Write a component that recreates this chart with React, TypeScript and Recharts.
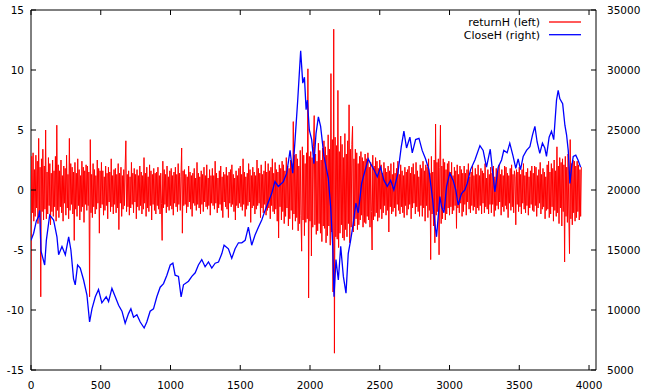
import React from 'react'
import { Line, LineChart, ReferenceArea, XAxis, YAxis } from 'recharts'

// daily return (left axis), one value every 5 sessions
const returnStep = 5
const returnH = [
  -7.5, 2.8, -1.9, 3.1, -2.6, 1.7, -2.2, 2.9, -1.5, 2.4, -2.8, 4.3, -2.1, 1.9, -8.9, 2.6, -1.8, 3.4, -2.5, 2.0,
  -1.6, 5.0, -2.4, 1.5, -2.0, 2.7, -1.3, 2.2, -2.9, 1.4, -1.8, 2.5, -2.2, 1.6, -1.4, 2.8, -2.6, 5.4, -1.7, 2.1,
  -2.3, 1.6, -1.4, 2.5, -1.9, 1.2, -2.6, 2.0, -1.1, 1.8, -2.1, 2.9, -1.5, 1.3, -2.4, 4.3, -1.7, 2.2, -1.2, 1.9,
  -2.0, 1.5, -4.2, 2.3, -1.6, 1.4, -2.2, 2.6, -1.3, 1.7, -2.5, 1.2, -1.8, 2.4, -1.4, 1.9, -2.7, 1.6, -1.2, 2.1,
  -1.7, 2.0, -1.3, 1.5, -8.9, 4.2, -1.9, 1.3, -2.3, 2.2, -1.4, 1.7, -2.0, 1.2, -1.6, 2.5, -1.1, 1.8, -3.6, 1.6,
  -1.5, 2.3, -1.2, 1.6, -2.1, 1.1, -1.7, 2.0, -1.3, 1.4, -2.4, 1.9, -1.0, 1.5, -1.8, 2.6, -1.4, 1.2, -2.0, 1.7,
  -1.2, 1.8, -1.9, 1.3, -1.5, 2.2, -3.3, 1.4, -1.1, 1.9, -2.2, 1.2, -1.6, 1.7, -1.3, 2.0, 4.1, -1.8, 1.3, -1.4,
  1.6, -2.1, 1.1, -1.5, 2.3, -1.2, 1.4, -1.9, 1.8, -1.0, 1.3, -2.4, 1.7, -1.4, 1.2, -1.7, 2.0, -1.3, 1.5, -2.0,
  1.2, -1.6, 2.7, -1.1, 1.4, -2.2, 1.9, -1.5, 1.1, -1.8, 2.1, -1.3, 1.6, -2.5, 1.3, -1.2, 1.8, -1.7, 1.4, -2.0,
  1.5, -1.3, 1.9, -1.6, 1.2, -2.0, 1.4, -1.1, -4.2, 2.4, -1.5, 1.7, -1.2, 1.3, -1.9, 2.0, -1.4, 1.1, -1.7, 1.6,
  -1.3, 1.8, -1.6, 1.2, -2.1, 1.5, -1.1, 1.9, -1.4, 1.3, -1.8, 2.2, -1.2, 1.4, -1.7, 1.1, 3.5, -3.6, 1.6, -1.3,
  1.7, -1.2, 1.3, -1.9, 1.1, -1.4, 2.0, -1.0, 1.5, -1.6, 1.2, -2.2, 1.4, -1.1, 1.8, -1.3, 1.0, -1.7, 2.3, -1.2,
  1.4, -1.5, 1.1, -2.0, 1.6, -1.2, 1.3, -1.8, 1.9, -1.0, 1.2, -1.4, 2.1, -1.6, 1.0, -1.3, 1.7, -2.1, 1.2, -1.1,
  1.8, -1.3, 1.2, -1.6, 2.4, -1.1, 1.4, -1.9, 1.0, -1.5, 1.6, -1.2, 2.0, -1.7, 1.1, -2.3, 1.5, -1.0, 1.3, -1.4,
  1.9, -1.6, 1.2, -2.3, 1.5, -1.1, 1.7, -1.4, 2.1, -1.2, 1.3, -1.8, 1.0, -2.5, 1.6, -1.3, 1.2, -1.5, 1.8, -1.1,
  2.0, -1.4, 1.3, -1.7, 2.6, -1.2, 1.5, -2.2, 1.1, -1.6, 1.4, -1.3, 2.2, -1.0, 1.7, -2.7, 1.2, -1.5, 1.9, -1.3,
  1.5, -2.0, 1.2, -1.6, 2.5, -1.3, 1.8, -1.1, 1.4, -2.3, 2.1, -1.5, 1.3, -1.9, 1.6, -1.2, 2.4, -2.1, 1.5, -1.7,
  2.2, -1.5, 1.6, -2.4, 1.9, -1.3, 2.6, -1.8, 1.4, -2.0, 2.3, -1.6, 1.7, -2.6, 1.5, -4.0, 2.1, -1.4, 1.8, -2.5,
  2.4, -1.8, 2.1, -2.8, 1.6, -2.2, 2.7, -1.5, 2.0, -3.0, 1.8, -2.4, 2.5, -1.7, 2.2, -3.3, 5.7, -2.0, 2.9, -2.6,
  3.0, -2.3, 2.6, -3.4, 2.0, -2.8, 3.3, -2.1, -5.1, 3.6, -2.5, 2.9, -3.8, 2.2, -2.7, 3.1, -2.4, 10.1, -9.0, 2.8,
  -2.6, 3.2, -5.5, 2.7, -3.1, 3.6, 6.2, -2.9, 3.0, -3.7, 2.4, -3.4, 3.9, -2.8, 3.3, -3.6, 2.5, -4.3, 3.5, -3.0,
  4.1, -3.2, 3.6, -4.4, 2.9, -3.8, 4.6, -3.0, 3.4, -4.6, 9.7, -3.5, 4.2, -8.5, 13.4, -13.6, 4.4, -3.9, 3.7, -4.1,
  8.3, -4.8, 3.2, -3.6, 4.5, -2.9, 3.8, -4.0, 2.7, -4.2, 4.7, -3.3, 3.0, -3.9, 4.1, -2.8, 7.1, -4.4, 3.4, -3.1,
  3.8, 5.3, -3.5, 2.6, -3.0, 3.4, -2.4, 3.1, -3.3, 2.2, -2.9, 2.8, -2.5, 3.2, -2.1, 2.7, -3.1, 2.4, -2.7, 3.0,
  -2.8, 2.6, -2.2, 3.1, -2.5, 1.9, -3.1, 2.3, -1.8, -5.0, 2.9, -2.5, 2.0, -2.2, 2.7, -1.9, 2.4, -2.6, 1.8, -2.3,
  2.5, -1.6, 2.1, -2.4, 1.4, -1.9, 2.3, -1.3, 1.8, -2.1, 1.5, -1.7, 2.0, -3.5, 1.6, -1.4, 2.2, -2.0, 1.3, -1.8,
  2.3, -1.5, 1.4, -2.2, 1.8, -1.2, 2.4, -1.7, 1.3, -2.0, 2.1, -1.4, 1.6, -1.9, 1.2, -2.3, 1.9, -1.3, 1.5, -2.1,
  1.7, -1.6, 2.0, -1.2, 1.4, -2.4, 1.9, -1.5, 2.2, -1.1, 1.3, -2.0, 2.3, -1.4, 1.6, -1.8, 1.1, -2.2, 2.1, -1.3,
  1.8, -2.2, 2.4, -1.5, 1.6, -2.6, 2.1, -1.3, 1.9, -2.3, 2.6, -1.7, 1.4, -5.8, 2.8, -2.0, 1.5, -3.0, 2.5, -4.4,
  5.5, -2.1, 2.3, -1.8, 2.6, -5.4, 1.9, 5.4, -2.8, 2.0, -2.4, 2.6, -1.6, 2.3, -2.5, 1.7, -2.0, 2.2, -1.5, 2.4,
  -2.1, 1.5, -1.4, 2.3, -2.0, 1.2, -1.7, 1.9, -1.3, 1.6, -3.2, 2.1, -1.5, 1.3, -1.9, 2.0, -1.1, 1.7, -2.2, 1.4,
  -1.8, 2.0, -1.2, 1.4, -2.1, 1.7, -1.0, 2.2, -1.6, 1.1, -1.9, 1.5, -1.3, 2.0, -1.7, 1.2, -1.4, 1.8, -2.0, 1.3,
  -1.5, 2.1, -1.7, 1.2, -1.3, 1.8, -2.0, 1.6, -1.1, 1.4, -1.9, 2.2, -1.4, 1.0, -1.6, 1.7, -2.0, 1.3, -1.2, 1.9,
  -1.9, 1.4, -1.2, 2.0, -2.2, 1.1, -1.7, 1.8, -1.3, 1.5, -1.6, 2.1, -1.0, 1.3, -2.1, 1.7, -1.4, 1.2, -1.8, 2.0,
  -1.3, 1.9, -1.6, 1.4, -2.3, 1.2, -1.1, 1.8, -1.7, 2.1, -1.4, 1.3, -1.9, 1.6, 1.1, -2.9, 1.7, -1.2, 1.5, -1.8,
  1.9, -1.4, 1.3, -2.0, 1.7, -1.1, 2.2, -1.6, 1.2, -1.9, 1.5, -1.3, 1.8, -2.1, 1.1, -1.5, 1.6, -1.2, 2.0, -1.7,
  1.4, -1.8, 2.0, -1.3, 1.9, -2.2, 1.2, -1.5, 1.7, -1.1, 2.3, -2.0, 1.3, -1.6, 1.8, -1.4, 1.5, -2.4, 1.1, -1.7,
  2.1, -1.6, 2.4, -2.3, 1.5, -2.0, 2.2, -1.4, 1.8, -2.6, 2.5, -1.7, 1.6, -2.2, 3.6, -1.9, 2.0, -2.8, 2.7, -1.5,
  2.3, -3.0, 2.6, -1.8, 2.1, -6.0, 2.8, -2.2, 1.9, -2.7, 3.0, -2.0, -5.3, 4.2, -2.4, 2.2, -2.9, 2.5, -1.9, 2.4,
  -2.6, 2.0, -2.3, 2.4, -1.8, 2.1, -2.5, 1.7, -2.2, 1.9,
]

// close (right axis)
const closeX = [
  0, 19, 38, 55, 62, 72, 98, 110, 134, 162, 186, 198, 222, 246, 270, 286, 305, 317, 334, 353,
  377, 401, 420, 437, 461, 484, 508, 539, 556, 580, 604, 628, 652, 675, 699, 716, 735, 759, 783, 811,
  830, 854, 878, 902, 926, 950, 974, 998, 1017, 1033, 1057, 1076, 1093, 1129, 1153, 1177, 1200, 1224, 1248, 1272,
  1296, 1320, 1344, 1368, 1384, 1415, 1439, 1463, 1487, 1511, 1535, 1558, 1582, 1606, 1630, 1654, 1678, 1702, 1725, 1749,
  1773, 1809, 1833, 1857, 1876, 1893, 1912, 1933, 1948, 1960, 1972, 1981, 1995, 2012, 2028, 2043, 2060, 2076, 2100, 2131,
  2148, 2163, 2172, 2186, 2203, 2220, 2239, 2258, 2274, 2291, 2310, 2329, 2346, 2370, 2394, 2417, 2434, 2458, 2482, 2506,
  2530, 2554, 2578, 2601, 2630, 2654, 2673, 2692, 2716, 2733, 2757, 2781, 2804, 2828, 2852, 2879, 2895, 2907, 2919, 2931,
  2943, 2960, 2979, 3002, 3026, 3045, 3062, 3086, 3110, 3127, 3151, 3182, 3218, 3241, 3265, 3292, 3307, 3325, 3349, 3373,
  3389, 3413, 3432, 3456, 3475, 3492, 3509, 3528, 3552, 3576, 3595, 3612, 3628, 3647, 3666, 3683, 3695, 3714, 3731, 3747,
  3767, 3779, 3791, 3811, 3827, 3839, 3851, 3863, 3875, 3887, 3905, 3921, 3940,
]
const closeH = [
  15800, 16400, 17400, 17800, 18300, 14900, 13750, 15800, 17900, 17500, 16100, 14600, 15300, 14600, 16100, 15000, 12600, 12100, 13750, 13500,
  12500, 11250, 9000, 10100, 11100, 11700, 10600, 11100, 10700, 11800, 11100, 10400, 9900, 8900, 9700, 10100, 9400, 9600, 9000, 8500,
  9000, 9900, 10100, 11100, 11900, 12200, 12900, 13750, 13900, 12900, 12800, 11100, 12100, 12400, 12800, 13100, 13750, 14200, 13600, 14000,
  13500, 13900, 14000, 14700, 15400, 15100, 14300, 15100, 15600, 15600, 15800, 16900, 15400, 16250, 16900, 17500, 18300, 19000, 19700, 20700,
  20300, 20700, 21400, 23300, 21400, 24200, 27500, 31600, 28900, 29400, 26700, 27500, 25000, 24200, 22200, 24700, 26100, 25300, 22800, 21000,
  18600, 15300, 11100, 14200, 12500, 15300, 12800, 11400, 14700, 15800, 17200, 18900, 18100, 20550, 21600, 22600, 22200, 21700, 21100, 21900,
  20800, 20300, 20800, 20000, 21400, 23600, 24900, 23500, 24400, 23100, 24200, 24300, 23300, 22600, 21700, 19200, 17200, 16100, 17800, 19450,
  18600, 18100, 20300, 21400, 20800, 20000, 18750, 19700, 20000, 20550, 21700, 22500, 23700, 23300, 21900, 23400, 21700, 19850, 21900, 22500,
  23300, 23100, 23900, 22800, 21800, 22600, 21700, 22800, 23300, 23600, 24600, 25300, 24000, 23050, 23900, 23500, 22800, 24400, 24900, 24200,
  27500, 28300, 27600, 27200, 25400, 24600, 23300, 20550, 21900, 22800, 22900, 22500, 21900,
]

const xTicks = [0, 500, 1000, 1500, 2000, 2500, 3000, 3500, 4000]
const leftTicks = [-15, -10, -5, 0, 5, 10, 15]
const rightTicks = [5000, 10000, 15000, 20000, 25000, 30000, 35000]
const seriesNames = ['returnH (left)', 'CloseH (right)']
const seriesColors = ['#ff0000', '#0000ff']

const returnData = returnH.map((v, i) => ({ x: i * returnStep, returnH: v }))
const closeData = closeX.map((x, i) => ({ x, closeH: closeH[i] }))

const W = 654
const H = 391
const TOP = 10
const BOTTOM = 370
const LEFT = 31
const RIGHT = 596
const FONT = '"DejaVu Sans", Verdana, sans-serif'
const TICK = 5

const XTick = (props: any) => {
  const { x, payload } = props
  return (
    <g>
      <line x1={x} x2={x} y1={BOTTOM} y2={BOTTOM - TICK} stroke="#000" />
      <line x1={x} x2={x} y1={TOP} y2={TOP + TICK} stroke="#000" />
      <text x={x} y={BOTTOM + 19} textAnchor="middle" fontSize={10.5} fontFamily={FONT} fill="#000">
        {payload.value}
      </text>
    </g>
  )
}

const LeftTick = (props: any) => {
  const { y, payload } = props
  return (
    <g>
      <line x1={LEFT} x2={LEFT + TICK} y1={y} y2={y} stroke="#000" />
      <text x={LEFT - 7} y={y} dy="0.36em" textAnchor="end" fontSize={10.5} fontFamily={FONT} fill="#000">
        {payload.value}
      </text>
    </g>
  )
}

const RightTick = (props: any) => {
  const { y, payload } = props
  return (
    <g>
      <line x1={RIGHT - TICK} x2={RIGHT} y1={y} y2={y} stroke="#000" />
      <text x={RIGHT + 11} y={y} dy="0.36em" textAnchor="start" fontSize={10.5} fontFamily={FONT} fill="#000">
        {payload.value}
      </text>
    </g>
  )
}

export default function App() {
  return (
    <div style={{ position: 'absolute', left: 0, top: 0, width: W, height: H, background: '#fff' }}>
      <LineChart width={W} height={H} margin={{ top: TOP, right: 0, bottom: 0, left: 0 }}>
        <XAxis
          dataKey="x"
          type="number"
          domain={[0, 4050]}
          ticks={xTicks}
          allowDataOverflow
          height={H - BOTTOM}
          axisLine={false}
          tickLine={false}
          tickSize={0}
          tickMargin={0}
          tick={XTick}
        />
        <YAxis
          yAxisId="left"
          domain={[-15, 15]}
          ticks={leftTicks}
          allowDataOverflow
          width={LEFT}
          axisLine={false}
          tickLine={false}
          tickSize={0}
          tickMargin={0}
          tick={LeftTick}
        />
        <YAxis
          yAxisId="right"
          orientation="right"
          domain={[5000, 35000]}
          ticks={rightTicks}
          allowDataOverflow
          width={W - RIGHT}
          axisLine={false}
          tickLine={false}
          tickSize={0}
          tickMargin={0}
          tick={RightTick}
        />
        <Line
          yAxisId="left"
          data={returnData}
          dataKey="returnH"
          stroke={seriesColors[0]}
          strokeWidth={1}
          dot={false}
          type="linear"
          isAnimationActive={false}
        />
        <Line
          yAxisId="right"
          data={closeData}
          dataKey="closeH"
          stroke={seriesColors[1]}
          strokeWidth={1.3}
          dot={false}
          type="linear"
          isAnimationActive={false}
        />
        <ReferenceArea
          yAxisId="left"
          x1={0}
          x2={4050}
          y1={-15}
          y2={15}
          fill="none"
          stroke="#000"
          strokeWidth={1}
          fillOpacity={0}
          ifOverflow="visible"
        />
      </LineChart>
      <svg width={W} height={H} style={{ position: 'absolute', left: 0, top: 0, pointerEvents: 'none' }}>
        {seriesNames.map((name, i) => (
          <g key={name}>
            <text x={540} y={22 + i * 12.7} dy="0.36em" textAnchor="end" fontSize={11} fontFamily={FONT} fill="#000">
              {name}
            </text>
            <line x1={549} x2={581} y1={22 + i * 12.7} y2={22 + i * 12.7} stroke={seriesColors[i]} strokeWidth={1.3} />
          </g>
        ))}
      </svg>
    </div>
  )
}
